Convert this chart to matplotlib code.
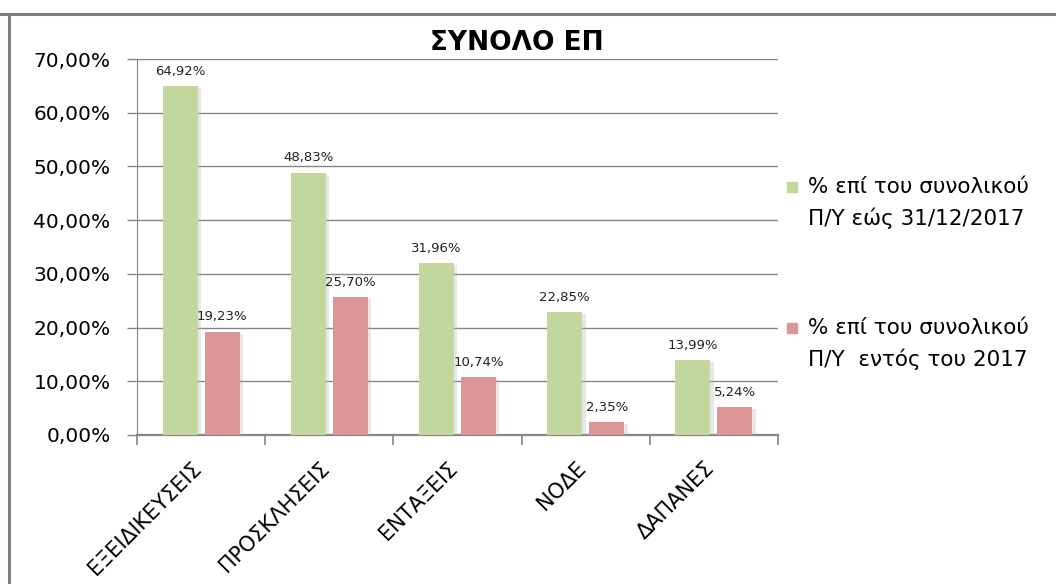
import matplotlib
matplotlib.use('Agg')
import matplotlib.pyplot as plt
import matplotlib.patheffects as pe
from matplotlib.patches import Rectangle
from matplotlib.lines import Line2D

plt.rcParams['font.family'] = ['DejaVu Sans']

# Chart data
categories = ['ΕΞΕΙΔΙΚΕΥΣΕΙΣ', 'ΠΡΟΣΚΛΗΣΕΙΣ', 'ΕΝΤΑΞΕΙΣ', 'ΝΟΔΕ', 'ΔΑΠΑΝΕΣ']
total_pct = [64.92, 48.83, 31.96, 22.85, 13.99]
year_pct = [19.23, 25.70, 10.74, 2.35, 5.24]
series_names = ['% επί του συνολικού\nΠ/Υ εώς 31/12/2017',
                '% επί του συνολικού\nΠ/Υ  εντός του 2017']
y_ticks = [0, 10, 20, 30, 40, 50, 60, 70]

green = '#C3D69B'
red = '#D99694'
grid_col = '#868686'

W, H = 1056, 584
fig = plt.figure(figsize=(W / 100, H / 100), dpi=100)


def px(x, y):
    """Pixel coords (top-left origin) to figure fraction."""
    return x / W, 1 - y / H


# outer chart border (only top and left visible in the crop)
fig.add_artist(Line2D([0, 1], [1 - 13.5 / H] * 2, color='#7f7f7f', lw=2.2))
fig.add_artist(Line2D([9 / W] * 2, [0, 1 - 13.5 / H], color='#7f7f7f', lw=2.2))

left, right, top, bottom = 137, 778, 59, 435
ax = fig.add_axes([left / W, 1 - bottom / H, (right - left) / W, (bottom - top) / H])

x = list(range(len(categories)))
off, bw = 0.164, 0.273
shadow = [pe.SimplePatchShadow(offset=(2.5, -1.5), shadow_rgbFace='#b0b0b0', alpha=0.3), pe.Normal()]
b1 = ax.bar([i - off for i in x], total_pct, bw, color=green, zorder=3)
b2 = ax.bar([i + off for i in x], year_pct, bw, color=red, zorder=3)
for b in list(b1) + list(b2):
    b.set_path_effects(shadow)

for bars, vals in ((b1, total_pct), (b2, year_pct)):
    for b, v in zip(bars, vals):
        ax.annotate(f'{v:.2f}%'.replace('.', ','), (b.get_x() + b.get_width() / 2, v),
                    xytext=(0, 6), textcoords='offset points', ha='center', va='bottom',
                    fontsize=9.5, color='#222222')

ax.set_xlim(-0.5, len(categories) - 0.5)
ax.set_ylim(0, 70)
ax.set_yticks(y_ticks)
ax.set_yticklabels([f'{t:.2f}%'.replace('.', ',') for t in y_ticks], fontsize=14.5)
ax.yaxis.grid(True, color=grid_col, lw=1)
ax.set_axisbelow(True)

# boundary ticks, category labels drawn as rotated text
ax.set_xticks([i - 0.5 for i in range(len(categories) + 1)])
ax.set_xticklabels([])
for i, cat in zip(x, categories):
    ax.annotate(cat, (i, 0), xytext=(-10, -23), textcoords='offset pixels',
                rotation=45, ha='right', va='top', rotation_mode='anchor',
                fontsize=15, annotation_clip=False)
ax.tick_params(axis='x', which='major', length=7, color=grid_col, width=1.2)
ax.tick_params(axis='y', length=7, color=grid_col, width=1, pad=12)

for s in ('top', 'right'):
    ax.spines[s].set_visible(False)
ax.spines['left'].set_color(grid_col)
ax.spines['bottom'].set_color(grid_col)
ax.spines['bottom'].set_linewidth(1.6)

# title
fig.text(*px(517, 43), 'ΣΥΝΟΛΟ ΕΠ', ha='center', va='center', fontsize=19, fontweight='bold')

# legend
for (name, col, yc) in ((series_names[0], green, 187), (series_names[1], red, 328)):
    fx, fy = px(787, yc + 5)
    fig.add_artist(Rectangle((fx, fy), 10 / W, 10 / H, color=col, transform=fig.transFigure))
    l1, l2 = name.split('\n')
    fig.text(*px(808, yc), l1, ha='left', va='center', fontsize=15.5)
    fig.text(*px(808, yc + 31), l2, ha='left', va='center', fontsize=15.5)

fig.savefig('out.png', dpi=100)
